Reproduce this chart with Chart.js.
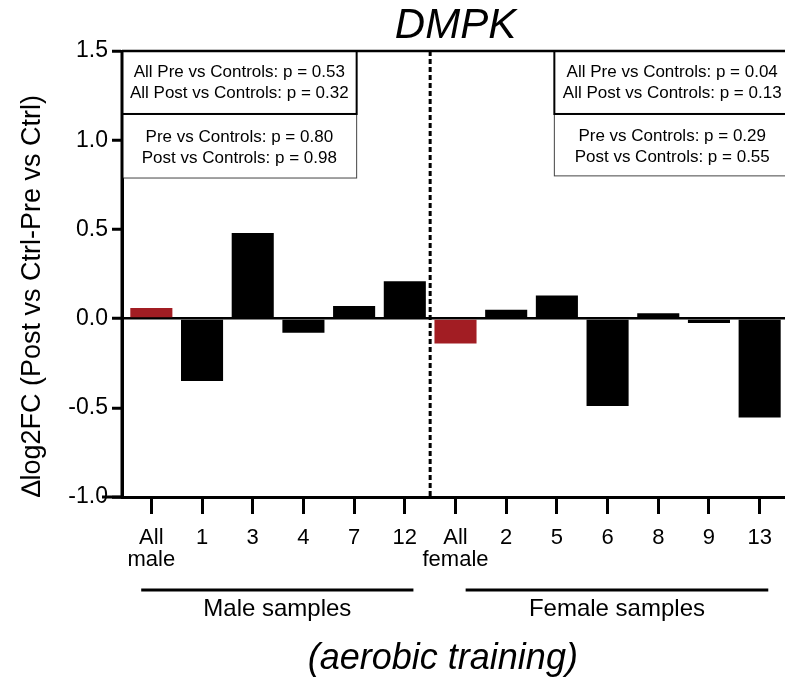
<!DOCTYPE html>
<html>
<head>
<meta charset="utf-8">
<script src="https://cdn.jsdelivr.net/npm/chart.js@4.4.0/dist/chart.umd.min.js"></script>
<style>
html, body { margin: 0; padding: 0; background: #fff; overflow: hidden; }
</style>
</head>
<body>
<canvas id="myChart" width="785" height="679"></canvas>
<script>
const FONT = '"Liberation Sans", Arial, sans-serif';

// data
const categories = [['All', 'male'], '1', '3', '4', '7', '12', ['All', 'female'], '2', '5', '6', '8', '9', '13'];
const values = [0.06, -0.35, 0.48, -0.08, 0.07, 0.21, -0.14, 0.05, 0.13, -0.49, 0.03, -0.025, -0.555];
const yTicks = [-1.0, -0.5, 0.0, 0.5, 1.0, 1.5];
const groupNames = ['Male samples', 'Female samples'];
const malePooledP = [0.53, 0.32];
const maleSampleP = [0.80, 0.98];
const femalePooledP = [0.04, 0.13];
const femaleSampleP = [0.29, 0.55];

function pooledText(p) {
    return ['All Pre vs Controls: p = ' + p[0].toFixed(2), 'All Post vs Controls: p = ' + p[1].toFixed(2)];
}
function sampleText(p) {
    return ['Pre vs Controls: p = ' + p[0].toFixed(2), 'Post vs Controls: p = ' + p[1].toFixed(2)];
}

function seg(ctx, x1, y1, x2, y2) {
    ctx.beginPath();
    ctx.moveTo(x1, y1);
    ctx.lineTo(x2, y2);
    ctx.stroke();
}

function textBox(ctx, x1, x2, yTop, yBot, lines, border, shift) {
    ctx.fillStyle = '#fff';
    ctx.fillRect(x1, yTop, x2 - x1, yBot - yTop);
    ctx.strokeStyle = border.color;
    ctx.lineWidth = border.width;
    ctx.strokeRect(x1, yTop, x2 - x1, yBot - yTop);
    ctx.fillStyle = '#000';
    ctx.font = '17px ' + FONT;
    ctx.textAlign = 'center';
    ctx.textBaseline = 'middle';
    const cx = (x1 + x2) / 2;
    const cy = (yTop + yBot) / 2 + shift;
    ctx.fillText(lines[0], cx, cy - 10.5);
    ctx.fillText(lines[1], cx, cy + 10.5);
}

const decor = {
    id: 'decor',
    afterLayout(chart) {
        // first category sits a few pixels right of the y axis
        const x = chart.scales.x;
        x._startPixel = x.left + 4;
        x._length = x.right - x._startPixel;
    },
    afterDraw(chart) {
        const ctx = chart.ctx;
        const a = chart.chartArea;
        const x = chart.scales.x;
        const y = chart.scales.y;
        ctx.save();
        ctx.strokeStyle = '#000';

        // x axis runs a bit past the y axis, and a frame line on top
        ctx.lineWidth = 3;
        seg(ctx, 102, a.bottom, a.left, a.bottom);

        // dashed divider between male and female
        const xd = x.getPixelForValue(5.5);
        ctx.setLineDash([5, 3]);
        seg(ctx, xd, a.top, xd, a.bottom);
        ctx.setLineDash([]);

        // p-value boxes
        const yTop = y.getPixelForValue(1.5);
        const yMid = y.getPixelForValue(1.147);
        const thick = { color: '#000', width: 2 };
        const thin = { color: '#444', width: 1 };
        const lx1 = a.left, lx2 = x.getPixelForValue(4.05);
        textBox(ctx, lx1, lx2, yMid, y.getPixelForValue(0.788), sampleText(maleSampleP), thin, 1.5);
        textBox(ctx, lx1, lx2, yTop, yMid, pooledText(malePooledP), thick, 0);
        const rx1 = x.getPixelForValue(7.95), rx2 = x.getPixelForValue(12.6);
        textBox(ctx, rx1, rx2, yMid, y.getPixelForValue(0.80), sampleText(femaleSampleP), thin, 1.5);
        textBox(ctx, rx1, rx2, yTop, yMid, pooledText(femalePooledP), thick, 0);

        // axis edges over the box borders
        ctx.strokeStyle = '#000';
        ctx.lineWidth = 3;
        seg(ctx, a.left, a.top - 1, a.left, a.bottom);
        ctx.lineWidth = 2.5;
        seg(ctx, a.left, a.top, a.right, a.top);

        // group bars under the tick labels
        const groups = [[-0.2, 5.17], [6.2, 12.17]];
        ctx.lineWidth = 3;
        ctx.fillStyle = '#000';
        ctx.font = '24px ' + FONT;
        ctx.textAlign = 'center';
        ctx.textBaseline = 'middle';
        groups.forEach((g, i) => {
            const gx1 = x.getPixelForValue(g[0]);
            const gx2 = x.getPixelForValue(g[1]);
            seg(ctx, gx1, a.bottom + 93, gx2, a.bottom + 93);
            ctx.fillText(groupNames[i], (gx1 + gx2) / 2, a.bottom + 112);
        });

        // title and subtitle
        ctx.font = 'italic 42px ' + FONT;
        ctx.fillText('DMPK', (a.left + a.right) / 2 + 2, 26);
        ctx.font = 'italic 36px ' + FONT;
        ctx.fillText('(aerobic training)', x.getPixelForValue(5.75), a.bottom + 162);

        // y axis title
        ctx.translate(33, y.getPixelForValue(0.127));
        ctx.rotate(-Math.PI / 2);
        ctx.font = '27px ' + FONT;
        ctx.fillText('\u2206log2FC (Post vs Ctrl-Pre vs Ctrl)', 0, 0);
        ctx.restore();
    }
};

const ctx = document.getElementById('myChart').getContext('2d');
const myChart = new Chart(ctx, {
    type: 'bar',
    data: {
        labels: categories,
        datasets: [{
            data: values,
            backgroundColor: (c) => Array.isArray(categories[c.dataIndex]) ? '#a21d23' : '#000000',
            barPercentage: 0.83,
            categoryPercentage: 1
        }]
    },
    options: {
        responsive: false,
        animation: false,
        layout: {
            autoPadding: false,
            padding: { top: 51, right: 0, bottom: 0, left: 0 }
        },
        plugins: {
            legend: { display: false },
            tooltip: { enabled: false },
            title: { display: false }
        },
        scales: {
            x: {
                offset: true,
                grid: { offset: false, drawOnChartArea: false, tickLength: 17, tickWidth: 3, tickColor: '#000' },
                border: { display: true, color: '#000', width: 3 },
                ticks: {
                    color: '#000',
                    autoSkip: false,
                    maxRotation: 0,
                    padding: 13,
                    font: { family: FONT, size: 22, lineHeight: 1.0 }
                },
                afterFit: (s) => { s.height = 182; }
            },
            y: {
                min: -1,
                max: 1.5,
                afterBuildTicks: (s) => { s.ticks = yTicks.map(v => ({ value: v })); },
                ticks: {
                    color: '#000',
                    padding: 4,
                    font: { family: FONT, size: 23 },
                    callback: (v) => Number(v).toFixed(1)
                },
                grid: {
                    color: (c) => (c.tick && c.tick.value === 0) ? '#000' : 'rgba(0,0,0,0)',
                    lineWidth: 2.5,
                    tickLength: 10,
                    tickWidth: 3,
                    tickColor: '#000'
                },
                border: { color: '#000', width: 3 },
                afterFit: (s) => { s.width = 122; }
            }
        }
    },
    plugins: [decor]
});
</script>
</body>
</html>
